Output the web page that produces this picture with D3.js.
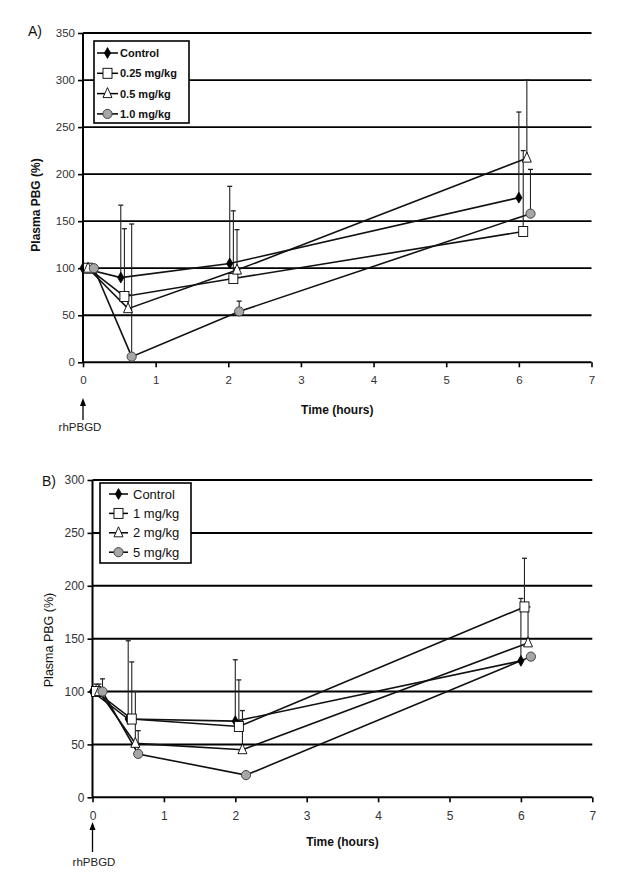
<!DOCTYPE html>
<html><head><meta charset="utf-8">
<script src="https://cdn.jsdelivr.net/npm/d3@7"></script>
<style>
html,body{margin:0;padding:0;background:#fff;}
svg{display:block;font-family:"Liberation Sans",Arial,sans-serif;}
</style></head>
<body>
<svg id="chart" width="617" height="882"></svg>
<script>
// ---------- DATA ----------
const xTicks = [0,1,2,3,4,5,6,7];
const yTicksA = [0,50,100,150,200,250,300,350];
const yTicksB = [0,50,100,150,200,250,300];

const seriesNamesA = ["Control","0.25 mg/kg","0.5 mg/kg","1.0 mg/kg"];
const seriesNamesB = ["Control","1 mg/kg","2 mg/kg","5 mg/kg"];
const markerTypes = ["diamond","square","triangle","circle"];

// Panel A (time in hours, plasma PBG %, upper error limit)
const a_ctrl_t = [0, 0.52, 2.02, 6.0];   const a_ctrl_v = [100, 90, 105, 175];  const a_ctrl_e = [null, 167, 187, 266];
const a_d025_t = [0.07, 0.57, 2.07, 6.06]; const a_d025_v = [100, 70, 89, 139]; const a_d025_e = [null, 142, 161, 225];
const a_d05_t  = [0.07, 0.62, 2.12, 6.11]; const a_d05_v  = [100, 57, 98, 217]; const a_d05_e  = [null, 72, 141, 300];
const a_d10_t  = [0.15, 0.67, 2.15, 6.16]; const a_d10_v  = [100, 6, 54, 158];  const a_d10_e  = [null, 147, 65, 205];

// Panel B
const b_ctrl_t = [0, 0.5, 2.0, 6.0];     const b_ctrl_v = [100, 74, 72, 129];   const b_ctrl_e = [null, 148, 130, 188];
const b_d1_t   = [0.05, 0.55, 2.05, 6.05]; const b_d1_v = [100, 74, 67, 180];  const b_d1_e   = [107, 128, 111, 226];
const b_d2_t   = [0.09, 0.6, 2.1, 6.1];  const b_d2_v   = [100, 51, 45, 146];   const b_d2_e   = [107, 100, 82, 180];
const b_d5_t   = [0.14, 0.64, 2.15, 6.14]; const b_d5_v = [100, 41, 21, 133];  const b_d5_e   = [112, 63, null, null];

const panelA = [[a_ctrl_t,a_ctrl_v,a_ctrl_e],[a_d025_t,a_d025_v,a_d025_e],[a_d05_t,a_d05_v,a_d05_e],[a_d10_t,a_d10_v,a_d10_e]];
const panelB = [[b_ctrl_t,b_ctrl_v,b_ctrl_e],[b_d1_t,b_d1_v,b_d1_e],[b_d2_t,b_d2_v,b_d2_e],[b_d5_t,b_d5_v,b_d5_e]];

// ---------- DRAW ----------
const svg = d3.select("#chart");

function marker(g, type, x, y){
  if(type==="diamond"){
    g.append("path").attr("d",d3.symbol(d3.symbolDiamond,34)()).attr("transform",`translate(${x},${y})`)
     .attr("fill","#000").attr("stroke","#000").attr("stroke-width",0.8);
  } else if(type==="square"){
    g.append("rect").attr("x",x-4.5).attr("y",y-5).attr("width",9).attr("height",10)
     .attr("fill","#fff").attr("stroke","#000").attr("stroke-width",0.9);
  } else if(type==="triangle"){
    g.append("path").attr("d",`M${x},${y-6}L${x+4.5},${y+4}L${x-4.5},${y+4}Z`)
     .attr("fill","#fff").attr("stroke","#000").attr("stroke-width",0.9);
  } else {
    g.append("circle").attr("cx",x).attr("cy",y).attr("r",4.6)
     .attr("fill","#a6a6a6").attr("stroke","#444").attr("stroke-width",1);
  }
}

function panel(cfg){
  const x = d3.scaleLinear().domain([0,7]).range(cfg.xr);
  const y = d3.scaleLinear().domain([0,cfg.ymax]).range(cfg.yr);
  const g = svg.append("g");

  // gridlines
  g.selectAll(".grid").data(cfg.yTicks.filter(d=>d>0)).enter().append("line")
    .attr("x1",x(0)).attr("x2",x(7)).attr("y1",d=>y(d)).attr("y2",d=>y(d))
    .attr("stroke","#000").attr("stroke-width",cfg.gridW);

  // axes
  const ya = g.append("g").attr("transform",`translate(${x(0)},0)`)
    .call(d3.axisLeft(y).tickValues(cfg.yTicks).tickSize(5).tickPadding(3).tickFormat(d3.format("d")));
  const xa = g.append("g").attr("transform",`translate(0,${y(0)})`)
    .call(d3.axisBottom(x).tickValues(xTicks).tickSize(5).tickPadding(9).tickFormat(d3.format("d")));
  [ya,xa].forEach(a=>{
    a.select(".domain").attr("stroke","#000").attr("stroke-width",2);
    a.selectAll(".tick line").attr("stroke","#000").attr("stroke-width",1.6);
    a.selectAll(".tick text").attr("fill","#333").style("font-size",cfg.tickFs+"px")
      .style("font-family","'Liberation Sans',Arial,sans-serif");
  });
  xa.select(".domain").attr("d",`M${x(0)},0H${x(7)}`);
  ya.select(".domain").attr("d",`M0,${y(cfg.ymax)}V${y(0)}`);

  // series lines
  const line = d3.line().x(d=>x(d[0])).y(d=>y(d[1]));
  cfg.data.forEach(s=>{
    const pts = s[0].map((t,i)=>[t,s[1][i]]);
    g.append("path").attr("d",line(pts)).attr("fill","none").attr("stroke","#111").attr("stroke-width",1.6);
  });
  // error bars
  cfg.data.forEach(s=>{
    s[0].forEach((t,i)=>{
      const e = s[2][i]; if(e==null) return;
      const xx = x(t);
      g.append("line").attr("x1",xx).attr("x2",xx).attr("y1",y(s[1][i])).attr("y2",y(e))
        .attr("stroke","#222").attr("stroke-width",1.1);
      g.append("line").attr("x1",xx-2.5).attr("x2",xx+2.5).attr("y1",y(e)).attr("y2",y(e))
        .attr("stroke","#222").attr("stroke-width",1.3);
    });
  });
  // markers
  cfg.data.forEach((s,si)=>{
    s[0].forEach((t,i)=>marker(g,markerTypes[si],x(t),y(s[1][i])));
  });

  // legend
  const L = cfg.legend;
  g.append("rect").attr("x",L.x).attr("y",L.y).attr("width",L.w).attr("height",L.h)
    .attr("fill","#fff").attr("stroke","#000").attr("stroke-width",1.6);
  cfg.names.forEach((n,i)=>{
    const yy = L.y + L.first + i*L.step;
    g.append("line").attr("x1",L.x+L.lx1).attr("x2",L.x+L.lx2).attr("y1",yy).attr("y2",yy)
      .attr("stroke","#000").attr("stroke-width",1.5);
    marker(g, markerTypes[i], L.x+(L.lx1+L.lx2)/2, yy);
    g.append("text").attr("x",L.x+L.tx).attr("y",yy).attr("dy","0.36em")
      .style("font-size",L.fs+"px").style("font-weight",L.fw).attr("fill","#111").text(n);
  });

  // titles
  g.append("text").attr("x",(x(0)+x(7))/2).attr("y",cfg.xTitleY).attr("text-anchor","middle")
    .style("font-size","12px").style("font-weight","bold").attr("fill","#111").text("Time (hours)");
  g.append("text").attr("transform",`translate(${cfg.yTitleX},${cfg.yTitleY}) rotate(-90)`)
    .attr("text-anchor","middle").style("font-size",cfg.yTitleFs+"px").style("font-weight",cfg.yTitleFw)
    .attr("fill","#111").text("Plasma PBG (%)");
  g.append("text").attr("x",cfg.lab[0]).attr("y",cfg.lab[1]).style("font-size","14px").attr("fill","#111").text(cfg.label);

  // arrow + rhPBGD
  const ax = x(0);
  g.append("line").attr("x1",ax).attr("x2",ax).attr("y1",cfg.arrow[0]+6).attr("y2",cfg.arrow[1])
    .attr("stroke","#000").attr("stroke-width",1.3);
  g.append("path").attr("d",`M${ax},${cfg.arrow[0]}L${ax+3},${cfg.arrow[0]+8}L${ax-3},${cfg.arrow[0]+8}Z`).attr("fill","#000");
  g.append("text").attr("x",cfg.rh[0]).attr("y",cfg.rh[1]).attr("text-anchor","middle")
    .style("font-size","11.5px").attr("fill","#222").text("rhPBGD");
}

panel({
  xr:[83,591.5], yr:[362.3,33], ymax:350, yTicks:yTicksA, gridW:1.8, tickFs:11.5,
  data:panelA, names:seriesNamesA,
  legend:{x:94,y:41,w:95,h:82,first:12,step:20.3,lx1:3,lx2:24,tx:26,fs:11,fw:"bold"},
  xTitleY:414, yTitleX:40, yTitleY:205, yTitleFs:12, yTitleFw:"bold",
  label:"A)", lab:[28,36], arrow:[398,420], rh:[80,431]
});
panel({
  xr:[92.5,592.3], yr:[797.3,480], ymax:300, yTicks:yTicksB, gridW:2, tickFs:12,
  data:panelB, names:seriesNamesB,
  legend:{x:100,y:483,w:91,h:80,first:11,step:19.4,lx1:9,lx2:28,tx:33,fs:13,fw:"normal"},
  xTitleY:846, yTitleX:53, yTitleY:640, yTitleFs:12.5, yTitleFw:"normal",
  label:"B)", lab:[42,486], arrow:[822,852], rh:[94,866]
});
</script>
</body></html>
